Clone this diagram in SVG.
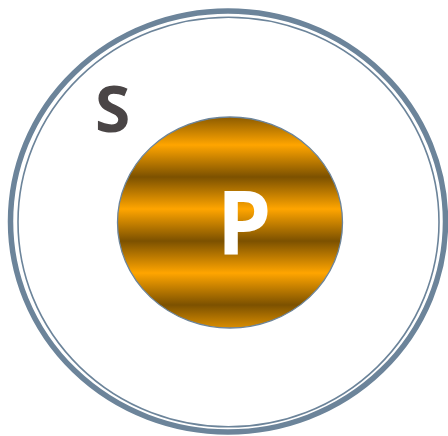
<svg xmlns="http://www.w3.org/2000/svg" width="448" height="436" viewBox="0 0 448 436">
  <style>
    .ring { fill: none; stroke: #6c849a; }
    .lbl { font-family: "Open Sans", "Liberation Sans", sans-serif; font-weight: bold; text-anchor: middle; }
  </style>
  <defs>
    <linearGradient id="stripes" gradientUnits="userSpaceOnUse" x1="0" y1="145" x2="0" y2="177" spreadMethod="reflect">
      <stop offset="0" stop-color="#ffa500"/>
      <stop offset="1" stop-color="#7c5100"/>
    </linearGradient>
  </defs>
  <rect width="448" height="436" fill="#ffffff"/>
  <g id="S">
    <ellipse class="ring" cx="228" cy="221.5" rx="217.5" ry="210.5" stroke-width="5.5"/>
    <ellipse class="ring" cx="228.5" cy="222" rx="210.5" ry="204.8" stroke-width="1.6"/>
    <text class="lbl" x="112.5" y="132" font-size="64" fill="#4a4546">S</text>
  </g>
  <g id="P">
    <ellipse cx="230" cy="222.5" rx="112.5" ry="105.5" fill="url(#stripes)" stroke="#6c849a" stroke-width="1.3"/>
    <text class="lbl" x="244" y="254" font-size="87" fill="#ffffff">P</text>
  </g>
</svg>
